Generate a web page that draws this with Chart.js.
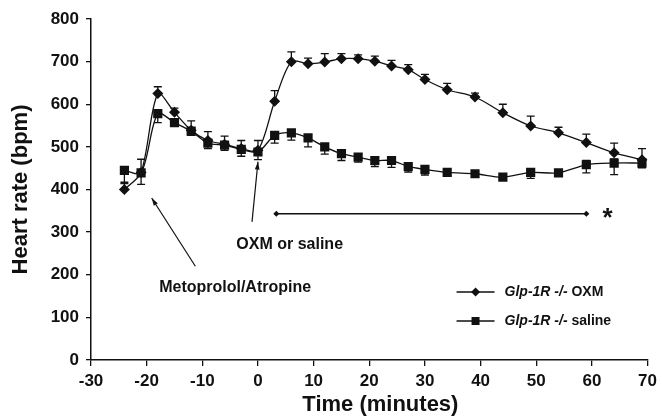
<!DOCTYPE html>
<html>
<head>
<meta charset="utf-8">
<script src="https://cdn.jsdelivr.net/npm/chart.js@4.4.1/dist/chart.umd.min.js"></script>
<style>
  html, body { margin: 0; padding: 0; background: #fff; }
  #wrap { width: 662px; height: 420px; }
</style>
</head>
<body>
<div id="wrap"><canvas id="hr" width="662" height="420"></canvas></div>
<script>
// Time points (minutes)
const times = [-24, -21, -18, -15, -12, -9, -6, -3, 0,
  3, 6, 9, 12, 15, 18, 21, 24, 27, 30,
  34, 39, 44, 49, 54, 59, 64, 69];

// Glp-1R -/- OXM (diamonds)
const oxmHR = [400, 440, 625, 581, 539, 515, 506, 496, 492,
  607, 700, 695, 699, 707, 707, 701, 690, 681, 658,
  634, 617, 580, 549, 533, 510, 486, 470];
const oxmErrUp = [14, 31, 16, 10, 22, 21, 19, 19, 23,
  25, 23, 13, 20, 12, 9, 12, 13, 12, 12,
  15, 9, 20, 23, 13, 20, 23, 26];
const oxmErrDown = [0, 0, 0, 0, 0, 0, 0, 0, 0,
  0, 0, 0, 0, 0, 0, 0, 0, 0, 0,
  0, 0, 0, 0, 0, 0, 0, 0];

// Glp-1R -/- saline (squares)
const salHR = [445, 439, 578, 557, 537, 509, 504, 494, 488,
  527, 533, 521, 500, 484, 476, 468, 468, 454, 447,
  440, 437, 429, 440, 439, 458, 462, 462];
const salErrUp = [0, 0, 0, 0, 0, 0, 0, 0, 0,
  0, 0, 0, 0, 0, 0, 0, 0, 0, 0,
  0, 0, 0, 0, 0, 10, 10, 0];
const salErrDown = [28, 27, 21, 8, 10, 13, 12, 16, 18,
  18, 17, 21, 17, 16, 12, 14, 16, 13, 13,
  8, 5, 5, 14, 5, 19, 27, 11];

// Axis ticks
const xTicks = [-30, -20, -10, 0, 10, 20, 30, 40, 50, 60, 70];
const yTicks = [0, 100, 200, 300, 400, 500, 600, 700, 800];

// Significance bar (time range, level)
const sigStart = 3.3, sigEnd = 59, sigLevel = 343;

const FONT = "'Liberation Sans', Arial, Helvetica, sans-serif";

const toPoints = (ys) => times.map((t, i) => ({ x: t, y: ys[i] }));

// error bars drawn underneath the markers
const errorBars = {
  id: 'errorBars',
  beforeDatasetsDraw(chart) {
    const { ctx, scales: { x, y } } = chart;
    const sets = [[oxmHR, oxmErrUp, oxmErrDown], [salHR, salErrUp, salErrDown]];
    ctx.save();
    ctx.strokeStyle = '#111';
    ctx.lineWidth = 1.3;
    sets.forEach(([vals, up, down]) => {
      times.forEach((t, i) => {
        const px = x.getPixelForValue(t);
        const py = y.getPixelForValue(vals[i]);
        [[up[i], 1], [down[i], -1]].forEach(([e, dir]) => {
          if (!e) return;
          const ey = y.getPixelForValue(vals[i] + dir * e);
          ctx.beginPath();
          ctx.moveTo(px, py);
          ctx.lineTo(px, ey);
          ctx.moveTo(px - 4, ey);
          ctx.lineTo(px + 4, ey);
          ctx.stroke();
        });
      });
    });
    ctx.restore();
  }
};

const arrow = (ctx, x0, y0, x1, y1) => {
  const a = Math.atan2(y1 - y0, x1 - x0);
  ctx.beginPath();
  ctx.moveTo(x0, y0);
  ctx.lineTo(x1, y1);
  ctx.stroke();
  ctx.beginPath();
  ctx.moveTo(x1, y1);
  ctx.lineTo(x1 - 8 * Math.cos(a - 0.3), y1 - 8 * Math.sin(a - 0.3));
  ctx.lineTo(x1 - 8 * Math.cos(a + 0.3), y1 - 8 * Math.sin(a + 0.3));
  ctx.closePath();
  ctx.fill();
};

// annotations, x title + custom legend
const annotations = {
  id: 'annotations',
  afterDraw(chart) {
    const { ctx, scales: { x, y }, chartArea } = chart;
    const X = (v) => x.getPixelForValue(v);
    const Y = (v) => y.getPixelForValue(v);
    ctx.save();
    ctx.fillStyle = '#111';
    ctx.strokeStyle = '#111';
    ctx.lineWidth = 1.2;

    // arrows
    arrow(ctx, X(-11.25), Y(220), X(-19.1), Y(380));
    arrow(ctx, X(-1.07), Y(324), X(0), Y(465));

    ctx.font = `bold 16px ${FONT}`;
    ctx.textAlign = 'center';
    ctx.textBaseline = 'middle';
    ctx.fillText('Metoprolol/Atropine', X(-4.1), Y(169));
    ctx.fillText('OXM or saline', X(5.7), Y(270));

    // x axis title (sits a little right of centre in the original)
    ctx.font = `bold 22px ${FONT}`;
    ctx.fillText('Time (minutes)', X(22), chartArea.bottom + 45);

    // significance bar
    const sy = Y(sigLevel);
    ctx.lineWidth = 1.5;
    ctx.beginPath();
    ctx.moveTo(X(sigStart), sy);
    ctx.lineTo(X(sigEnd), sy);
    ctx.stroke();
    [sigStart, sigEnd].forEach(t => {
      const cx = X(t);
      ctx.beginPath();
      ctx.moveTo(cx - 3, sy); ctx.lineTo(cx, sy - 3);
      ctx.lineTo(cx + 3, sy); ctx.lineTo(cx, sy + 3);
      ctx.closePath();
      ctx.fill();
    });
    ctx.font = `bold 26px ${FONT}`;
    ctx.fillText('*', X(62.8), sy + 5);

    // legend
    const lx = chartArea.right - 191;
    const rows = [
      { y: chartArea.top + 273, label: 'OXM', shape: 'diamond' },
      { y: chartArea.top + 302, label: 'saline', shape: 'square' }
    ];
    rows.forEach(r => {
      ctx.lineWidth = 1.3;
      ctx.beginPath();
      ctx.moveTo(lx, r.y);
      ctx.lineTo(lx + 38, r.y);
      ctx.stroke();
      const mx = lx + 19;
      ctx.beginPath();
      if (r.shape === 'diamond') {
        ctx.moveTo(mx - 4.5, r.y); ctx.lineTo(mx, r.y - 4.5);
        ctx.lineTo(mx + 4.5, r.y); ctx.lineTo(mx, r.y + 4.5);
        ctx.closePath();
      } else {
        ctx.rect(mx - 4, r.y - 4, 8, 8);
      }
      ctx.fill();
      ctx.textAlign = 'left';
      ctx.font = `italic bold 14px ${FONT}`;
      const it = 'Glp-1R -/-';
      ctx.fillText(it, lx + 48, r.y);
      const w = ctx.measureText(it + ' ').width;
      ctx.font = `bold 14px ${FONT}`;
      ctx.fillText(r.label, lx + 48 + w, r.y);
    });
    ctx.restore();
  }
};

new Chart(document.getElementById('hr'), {
  type: 'line',
  data: {
    datasets: [
      {
        label: 'Glp-1R -/- saline',
        data: toPoints(salHR),
        borderColor: '#111',
        backgroundColor: '#111',
        borderWidth: 1.3,
        pointStyle: 'rect',
        pointRadius: 6.5,
        pointBorderWidth: 0,
        tension: 0.3,
        order: 0
      },
      {
        label: 'Glp-1R -/- OXM',
        data: toPoints(oxmHR),
        borderColor: '#111',
        backgroundColor: '#111',
        borderWidth: 1.3,
        pointStyle: 'rectRot',
        pointRadius: 5.5,
        pointBorderWidth: 0,
        tension: 0.3,
        order: 1
      }
    ]
  },
  options: {
    responsive: false,
    animation: false,
    layout: { padding: { top: 19, right: 11, left: 0, bottom: 0 } },
    plugins: {
      legend: { display: false },
      tooltip: { enabled: false }
    },
    scales: {
      x: {
        type: 'linear',
        min: -30,
        max: 70,
        afterBuildTicks: (s) => { s.ticks = xTicks.map(v => ({ value: v })); },
        afterFit: (s) => { s.height = 60; },
        ticks: {
          color: '#111',
          padding: 5,
          maxRotation: 0,
          font: { family: FONT, size: 17, weight: 'bold' }
        },
        grid: { drawOnChartArea: false, drawTicks: true, tickLength: 6, color: '#111', lineWidth: 1.3 },
        border: { display: true, color: '#111', width: 1.5 }
      },
      y: {
        min: 0,
        max: 800,
        afterBuildTicks: (s) => { s.ticks = yTicks.map(v => ({ value: v })); },
        afterFit: (s) => { s.width = 91; },
        ticks: {
          color: '#111',
          padding: 7,
          font: { family: FONT, size: 17, weight: 'bold' }
        },
        grid: { drawOnChartArea: false, drawTicks: true, tickLength: 5, color: '#111', lineWidth: 1.3 },
        border: { display: true, color: '#111', width: 1.5 },
        title: {
          display: true,
          text: 'Heart rate (bpm)',
          color: '#111',
          padding: { top: 8, bottom: 0 },
          font: { family: FONT, size: 22, weight: 'bold' }
        }
      }
    }
  },
  plugins: [errorBars, annotations]
});
</script>
</body>
</html>
